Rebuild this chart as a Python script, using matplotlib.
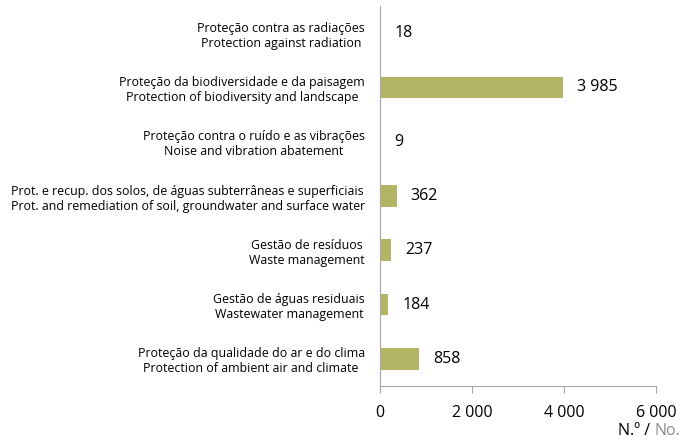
import matplotlib.pyplot as plt

# Categories (bottom to top order as drawn)
labels_pt = ['Proteção da qualidade do ar e do clima',
             'Gestão de águas residuais',
             'Gestão de resíduos',
             'Prot. e recup. dos solos, de águas subterrâneas e superficiais',
             'Proteção contra o ruído e as vibrações',
             'Proteção da biodiversidade e da paisagem',
             'Proteção contra as radiações']
labels_en = ['Protection of ambient air and climate',
             'Wastewater management',
             'Waste management',
             'Prot. and remediation of soil, groundwater and surface water',
             'Noise and vibration abatement',
             'Protection of biodiversity and landscape',
             'Protection against radiation']
values = [858, 184, 237, 362, 9, 3985, 18]
value_text = ['858', '184', '237', '362', '9', '3 985', '18']
xticks = [0, 2000, 4000, 6000]
xtick_labels = ['0', '2 000', '4 000', '6 000']

plt.rcParams['font.family'] = ['Open Sans', 'DejaVu Sans']

fig = plt.figure(figsize=(6.85, 4.44), dpi=100)
ax = fig.add_axes([0.5547, 0.1306, 0.4030, 0.8559])

pos = list(range(len(values)))
ax.barh(pos, values, height=0.4, color='#B3B564')

# value labels
for p, v, t in zip(pos, values, value_text):
    ax.annotate(t, (v, p), xytext=(10, 0), textcoords='offset points',
                va='center', ha='left', fontsize=11.5, color='black')

ax.set_ylim(-0.5, len(values) - 0.5)
ax.set_xlim(0, 6000)
ax.set_xticks(xticks)
ax.set_xticklabels(xtick_labels, fontsize=11.5)
ax.set_yticks(pos)
ax.set_yticklabels([a + '\n' + b for a, b in zip(labels_pt, labels_en)], fontsize=8.9)
for lbl in ax.get_yticklabels():
    lbl.set_multialignment('center')

for s in ['top', 'right']:
    ax.spines[s].set_visible(False)
ax.spines['left'].set_color('#A6A6A6')
ax.spines['bottom'].set_color('#A6A6A6')
ax.tick_params(axis='y', length=0, pad=11)
ax.tick_params(axis='x', length=5, color='#A6A6A6', pad=9)

# axis unit label
no = fig.text(0.993, 0.012, 'No.', ha='right', va='bottom', fontsize=11.5, color='#8C8C8C')
ax.annotate('N.º / ', xy=(0, 0), xycoords=no, ha='right', va='bottom',
            fontsize=11.5, color='black')

fig.savefig('out.png', dpi=100)
